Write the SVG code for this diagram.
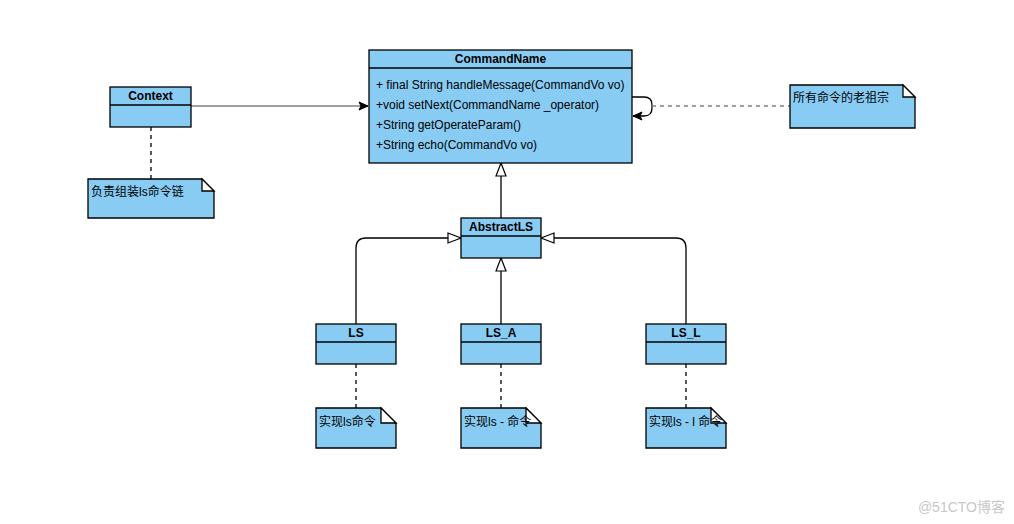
<svg xmlns="http://www.w3.org/2000/svg" width="1014" height="524" viewBox="0 0 1014 524">
<style>
.box{fill:#88CCF4;stroke:#000;stroke-width:1.3}
.t{font-family:"Liberation Sans",Arial,sans-serif;font-size:12px;fill:#000}
.b{font-weight:bold;text-anchor:middle}
.cjk{font-family:"Liberation Sans","Noto Sans CJK SC",sans-serif;font-size:12px;fill:#000}
.ln{fill:none;stroke:#000;stroke-width:1.3}
.dash{fill:none;stroke:#000;stroke-width:1.3;stroke-dasharray:4 4}
.fold{fill:#fff;stroke:#000;stroke-width:1.3}
</style>
<defs>
<marker id="tri" markerWidth="16" markerHeight="12" refX="14" refY="6" orient="auto" markerUnits="userSpaceOnUse">
<path d="M1,1 L14,6 L1,11 Z" fill="#fff" stroke="#000" stroke-width="1.2"/>
</marker>
<marker id="open" markerWidth="12" markerHeight="10" refX="10" refY="5" orient="auto" markerUnits="userSpaceOnUse">
<path d="M1,1 L10,5 L1,9 L3,5 Z" fill="#000" stroke="#000" stroke-width="1"/>
</marker>
</defs>
<rect width="1014" height="524" fill="#fff"/>
<g id="connectors">
<line x1="191" y1="106" x2="368" y2="106" stroke="#808080" stroke-width="1.3" marker-end="url(#open)"/>
<path class="ln" d="M632,97 L644,97 Q652,97 652,105 L652,108 Q652,116 644,116 L633,116" marker-end="url(#open)"/>
<line x1="652" y1="106" x2="790" y2="106" stroke="#808080" stroke-width="1.3" stroke-dasharray="4 4"/>
<line class="dash" x1="151" y1="127" x2="151" y2="179"/>
<line class="ln" x1="501" y1="218" x2="501" y2="163" marker-end="url(#tri)"/>
<path class="ln" d="M356,324 L356,248 Q356,238 366,238 L461,238" marker-end="url(#tri)"/>
<line class="ln" x1="501" y1="324" x2="501" y2="258" marker-end="url(#tri)"/>
<path class="ln" d="M686,324 L686,248 Q686,238 676,238 L541,238" marker-end="url(#tri)"/>
<line class="dash" x1="356" y1="364" x2="356" y2="408"/>
<line class="dash" x1="501" y1="364" x2="501" y2="408"/>
<line class="dash" x1="686" y1="364" x2="686" y2="408"/>
</g>
<g id="CommandName">
<rect class="box" x="369" y="50" width="263" height="113"/>
<line class="ln" x1="369" y1="68" x2="632" y2="68"/>
<text class="t b" x="500.5" y="63">CommandName</text>
<text class="t" x="376" y="89">+ final String handleMessage(CommandVo vo)</text>
<text class="t" x="376" y="109">+void setNext(CommandName _operator)</text>
<text class="t" x="376" y="129">+String getOperateParam()</text>
<text class="t" x="376" y="149">+String echo(CommandVo vo)</text>
</g>
<g id="Context">
<rect class="box" x="110" y="87" width="81" height="40"/>
<line class="ln" x1="110" y1="105" x2="191" y2="105"/>
<text class="t b" x="150.5" y="100">Context</text>
</g>
<g id="note-context">
<path class="box" d="M88,179 L202,179 L214,191 L214,218 L88,218 Z"/>
<path class="fold" d="M202,179 L202,191 L214,191 Z"/>
<text class="cjk" x="91" y="196">负责组装ls命令链</text>
</g>
<g id="note-root">
<path class="box" d="M790,85 L903,85 L915,97 L915,128 L790,128 Z"/>
<path class="fold" d="M903,85 L903,97 L915,97 Z"/>
<text class="cjk" x="793" y="102">所有命令的老祖宗</text>
</g>
<g id="AbstractLS">
<rect class="box" x="461" y="218" width="80" height="40"/>
<line class="ln" x1="461" y1="236" x2="541" y2="236"/>
<text class="t b" x="501" y="231">AbstractLS</text>
</g>
<g id="LS">
<rect class="box" x="316" y="324" width="80" height="40"/>
<line class="ln" x1="316" y1="342" x2="396" y2="342"/>
<text class="t b" x="356" y="337">LS</text>
</g>
<g id="LS_A">
<rect class="box" x="461" y="324" width="80" height="40"/>
<line class="ln" x1="461" y1="342" x2="541" y2="342"/>
<text class="t b" x="501" y="337">LS_A</text>
</g>
<g id="LS_L">
<rect class="box" x="646" y="324" width="80" height="40"/>
<line class="ln" x1="646" y1="342" x2="726" y2="342"/>
<text class="t b" x="686" y="337">LS_L</text>
</g>
<g id="note-ls">
<path class="box" d="M316,408 L381,408 L396,423 L396,448 L316,448 Z"/>
<path class="fold" d="M381,408 L381,423 L396,423 Z"/>
<text class="cjk" x="319" y="426">实现ls命令</text>
</g>
<g id="note-ls-a">
<path class="box" d="M461,408 L526,408 L541,423 L541,448 L461,448 Z"/>
<path class="fold" d="M526,408 L526,423 L541,423 Z"/>
<text class="cjk" x="464" y="426">实现ls - 命令</text>
</g>
<g id="note-ls-l">
<path class="box" d="M646,408 L711,408 L726,423 L726,448 L646,448 Z"/>
<path class="fold" d="M711,408 L711,423 L726,423 Z"/>
<text class="cjk" x="649" y="426">实现ls - l 命令</text>
</g>
<text x="1005" y="512" text-anchor="end" font-family="Liberation Sans,'Noto Sans CJK SC',sans-serif" font-size="14" fill="#c8c8c8">@51CTO博客</text>
</svg>
